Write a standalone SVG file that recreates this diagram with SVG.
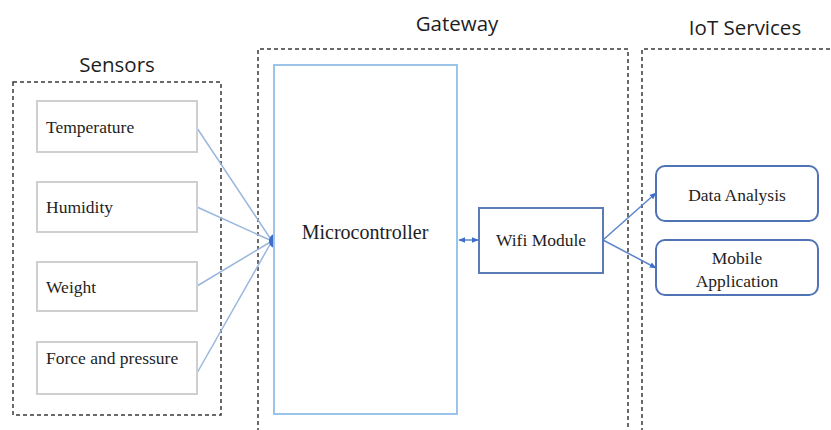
<svg xmlns="http://www.w3.org/2000/svg" width="831" height="430" viewBox="0 0 831 430">
<defs>
<style>
.grp{fill:none;stroke:#3a3a3a;stroke-width:1.5;stroke-dasharray:4 3}
.title{font-family:"Open Sans","Liberation Sans",sans-serif;font-size:20.5px;fill:#1e1e1e;text-anchor:middle}
.sensor{fill:#fff;stroke:#cfcfcf;stroke-width:2}
.lbl{font-family:"Liberation Serif",serif;font-size:17.5px;fill:#1e1e1e}
.big{font-size:20px}
.svc{fill:#fff;stroke:#4f73b5;stroke-width:2}
.link{stroke:#9ab6df;stroke-width:1.5;fill:none}
.arr{stroke:#5b86cf;stroke-width:1.5;fill:none}
</style>
<marker id="ah" viewBox="0 0 10 10" refX="9" refY="5" markerWidth="7" markerHeight="7" orient="auto-start-reverse" markerUnits="userSpaceOnUse">
<path d="M0,1 L10,5 L0,9 z" fill="#3d6fc8"/>
</marker>
</defs>
<rect width="831" height="430" fill="#fff"/>

<g id="sensors-group">
<rect class="grp" x="13" y="82" width="208" height="333"/>
<text class="title" x="117" y="72">Sensors</text>
</g>
<g id="gateway-group">
<path class="grp" d="M258,432 V49 H628 V432"/>
<text class="title" x="457" y="31">Gateway</text>
</g>
<g id="iot-group">
<path class="grp" d="M642,432 V49 H833"/>
<text class="title" x="745" y="35">IoT Services</text>
</g>

<g id="connectors">
<line class="link" x1="197" y1="128" x2="272" y2="241"/>
<line class="link" x1="197" y1="207" x2="272" y2="241"/>
<line class="link" x1="197" y1="286" x2="272" y2="241"/>
<line class="link" x1="197" y1="373" x2="272" y2="241"/>
<path d="M275,234 C267,235 267,247 275,248 z" fill="#3d6fc8"/>
<line class="arr" x1="459" y1="240" x2="478" y2="240" marker-start="url(#ah)" marker-end="url(#ah)"/>
<line class="arr" x1="603" y1="240" x2="656" y2="193" marker-end="url(#ah)"/>
<line class="arr" x1="603" y1="240" x2="656" y2="268" marker-end="url(#ah)"/>
</g>

<g id="temperature">
<rect class="sensor" x="37" y="101" width="160" height="51"/>
<text class="lbl" x="46" y="133">Temperature</text>
</g>
<g id="humidity">
<rect class="sensor" x="37" y="182" width="160" height="50"/>
<text class="lbl" x="46" y="213">Humidity</text>
</g>
<g id="weight">
<rect class="sensor" x="37" y="262" width="160" height="49"/>
<text class="lbl" x="46" y="293">Weight</text>
</g>
<g id="force">
<rect class="sensor" x="37" y="342" width="160" height="52"/>
<text class="lbl" x="46" y="364">Force and pressure</text>
</g>

<g id="microcontroller">
<rect x="274" y="65" width="183" height="349" fill="#fff" stroke="#9cc3ea" stroke-width="2"/>
<text class="lbl big" x="365" y="239" text-anchor="middle">Microcontroller</text>
</g>
<g id="wifi">
<rect x="479" y="208" width="124" height="65" fill="#fff" stroke="#5a7bb5" stroke-width="2"/>
<text class="lbl" x="541" y="246" text-anchor="middle">Wifi Module</text>
</g>
<g id="data-analysis">
<rect class="svc" x="656" y="166" width="162" height="55" rx="9"/>
<text class="lbl" x="737" y="201" text-anchor="middle">Data Analysis</text>
</g>
<g id="mobile-app">
<rect class="svc" x="656" y="240" width="162" height="55" rx="9"/>
<text class="lbl" x="737" y="264" text-anchor="middle">Mobile</text>
<text class="lbl" x="737" y="287" text-anchor="middle">Application</text>
</g>
</svg>
